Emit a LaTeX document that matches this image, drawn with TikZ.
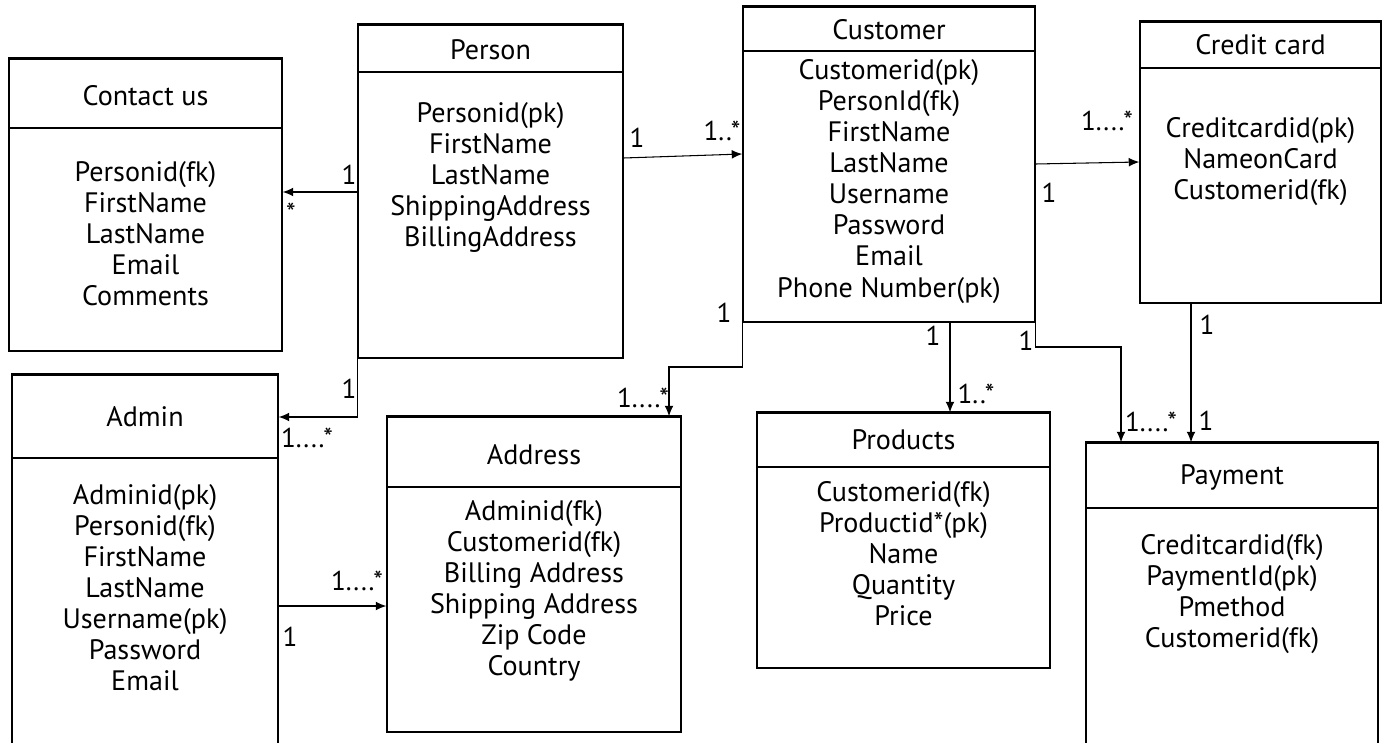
\documentclass[tikz,border=0pt]{standalone}
\usepackage{fontspec}
\setmainfont{PT Sans}
\usetikzlibrary{arrows.meta, fit}

\tikzset{
  entity/.style={draw, line width=0.8pt, inner sep=0pt},
  etitle/.style={font=\fontsize{16}{17.7}\selectfont},
  eattr/.style={align=center, anchor=north, inner sep=0pt, font=\fontsize{16}{17.7}\selectfont},
  mult/.style={inner sep=0pt, font=\fontsize{15.5}{16}\selectfont},
  link/.style={line width=0.6pt, -{Latex[length=6pt,width=5pt]}},
}

\begin{document}
\begin{tikzpicture}[x=0.02cm, y=-0.02cm]
\useasboundingbox (0,0) rectangle (1387,743);
\clip (0,0) rectangle (1387,743);

% tables
\node[entity, fit={(9,59) (282,351)}] (contact) {};
\node[entity, fit={(358,25) (623,358)}] (person) {};
\node[entity, fit={(743,7) (1035,322)}] (customer) {};
\node[entity, fit={(1140,22) (1381,303)}] (credit) {};
\node[entity, fit={(12,375) (278,760)}] (admin) {};
\node[entity, fit={(387,417) (681,732)}] (address) {};
\node[entity, fit={(757,413) (1050,668)}] (products) {};
\node[entity, fit={(1086,443) (1378,760)}] (payment) {};

% thick tops and header lines
\foreach \e/\h in {contact/128, person/72, customer/51, credit/68, admin/458, address/487, products/467, payment/508} {
  \draw[line width=1.8pt] (\e.north west) -- (\e.north east);
  \draw[line width=0.8pt] (\e.west |- 0,\h) -- (\e.east |- 0,\h);
}

% titles
\node[etitle] (contactT) at (contact.north |- 0,96) {Contact us};
\node[etitle] (personT) at (person.north |- 0,50) {Person};
\node[etitle] (customerT) at (customer.north |- 0,30) {Customer};
\node[etitle] (creditT) at (credit.north |- 0,45) {Credit card};
\node[etitle] (adminT) at (admin.north |- 0,417) {Admin};
\node[etitle] (addressT) at (address.north |- 0,455) {Address};
\node[etitle] (productsT) at (products.north |- 0,440) {Products};
\node[etitle] (paymentT) at (payment.north |- 0,477) {Payment};

% attributes
\node[eattr] (contactA) at (contact.north |- 0,161) {Personid(fk)\\FirstName\\LastName\\Email\\Comments};
\node[eattr] (personA) at (person.north |- 0,102) {Personid(pk)\\FirstName\\LastName\\ShippingAddress\\BillingAddress};
\node[eattr] (customerA) at (customer.north |- 0,59) {Customerid(pk)\\PersonId(fk)\\FirstName\\LastName\\Username\\Password\\Email\\Phone Number(pk)};
\node[eattr] (creditA) at (credit.north |- 0,117) {Creditcardid(pk)\\NameonCard\\Customerid(fk)};
\node[eattr] (adminA) at (admin.north |- 0,484) {Adminid(pk)\\Personid(fk)\\FirstName\\LastName\\Username(pk)\\Password\\Email};
\node[eattr] (addressA) at (address.north |- 0,500) {Adminid(fk)\\Customerid(fk)\\Billing Address\\Shipping Address\\Zip Code\\Country};
\node[eattr] (productsA) at (products.north |- 0,481) {Customerid(fk)\\Productid*(pk)\\Name\\Quantity\\Price};
\node[eattr] (paymentA) at (payment.north |- 0,534) {Creditcardid(fk)\\PaymentId(pk)\\Pmethod\\Customerid(fk)};

% relations
\draw[link] (person.west |- 0,192) -- (contact.east |- 0,192);
\draw[link] (person.east |- 0,158) -- (customer.west |- 0,154);
\draw[link] (customer.east |- 0,164) -- (credit.west |- 0,162);
\draw[link] (person.south west) |- (admin.east |- 0,417);
\draw[link] (customer.south west) |- (669,367) -- (address.north -| 669,0);
\draw[link] (customer.south -| 950,0) -- (products.north -| 950,0);
\draw[link] (customer.east |- 0,255) |- (1121,347) -- (payment.north -| 1121,0);
\draw[link] (credit.south -| 1191,0) -- (payment.north -| 1191,0);
\draw[link] (admin.east |- 0,606) -- (address.west |- 0,606);

% multiplicities
\node[mult] (m1) at (349,175) {1};
\node[mult] (m2) at (291,213) {*};
\node[mult] (m3) at (637,138) {1};
\node[mult] (m4) at (722,131) {1..*};
\node[mult] (m5) at (1107,121) {1....*};
\node[mult] (m6) at (1049,193) {1};
\node[mult] (m7) at (349,389) {1};
\node[mult] (m8) at (307,438) {1....*};
\node[mult] (m9) at (724,313) {1};
\node[mult] (m10) at (643,398) {1....*};
\node[mult] (m11) at (933,336) {1};
\node[mult] (m12) at (976,394) {1..*};
\node[mult] (m13) at (1026,341) {1};
\node[mult] (m14) at (1151,422) {1....*};
\node[mult] (m15) at (1207,325) {1};
\node[mult] (m16) at (1206,421) {1};
\node[mult] (m17) at (357,581) {1....*};
\node[mult] (m18) at (290,637) {1};
\end{tikzpicture}
\end{document}
